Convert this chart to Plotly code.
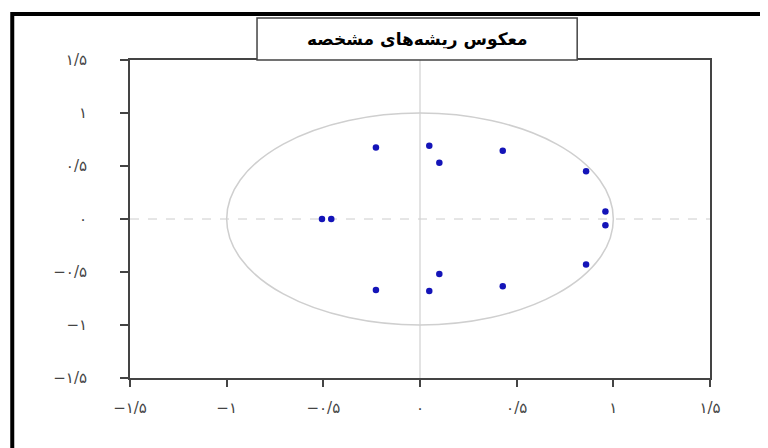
import plotly.graph_objects as go

# Inverse roots (real, imaginary)
root_re = [-0.507, -0.459, -0.228, -0.228, 0.048, 0.048, 0.10, 0.10,
           0.428, 0.428, 0.859, 0.859, 0.959, 0.959]
root_im = [0.0, 0.0, 0.675, -0.67, 0.69, -0.68, 0.53, -0.52,
           0.645, -0.635, 0.45, -0.43, 0.07, -0.06]

tick_vals = [-1.5, -1, -0.5, 0, 0.5, 1, 1.5]
tick_text = ["−۱/۵", "−۱", "−۰/۵", "۰", "۰/۵", "۱", "۱/۵"]
title_text = "<b>معکوس ریشه‌های مشخصه</b>"
unit_radius = 1.0

fig = go.Figure()
fig.add_trace(go.Scatter(
    x=root_re, y=root_im, mode="markers",
    marker=dict(symbol="circle", size=6.5, color="#1414b8"),
    showlegend=False, hoverinfo="x+y"))

shapes = [
    # unit circle
    dict(type="circle", xref="x", yref="y", x0=-unit_radius, x1=unit_radius,
         y0=-unit_radius, y1=unit_radius, line=dict(color="#cfcfcf", width=1.5), layer="below"),
    # zero lines
    dict(type="line", xref="paper", yref="y", x0=0, x1=1, y0=0, y1=0,
         line=dict(color="#cccccc", width=1, dash="dash"), layer="below"),
    dict(type="line", xref="x", yref="paper", x0=0, x1=0, y0=0, y1=1,
         line=dict(color="#d0d0d0", width=1.2), layer="below"),
    # outer black frame
    dict(type="rect", xref="paper", yref="paper", x0=-0.203, x1=1.3, y0=-0.6, y1=1.145,
         line=dict(color="black", width=4), fillcolor="rgba(0,0,0,0)"),
    # title box
    dict(type="rect", xref="paper", yref="paper", x0=0.219, x1=0.771, y0=1.0, y1=1.132,
         line=dict(color="#444444", width=1.5), fillcolor="white"),
]

fig.update_layout(
    width=760, height=440,
    margin=dict(l=122, r=58, t=52, b=70),
    paper_bgcolor="white", plot_bgcolor="white",
    shapes=shapes,
    annotations=[dict(text=title_text, xref="paper", yref="paper", x=0.495, y=1.066,
                      showarrow=False, font=dict(family="DejaVu Sans", size=17, color="black"),
                      xanchor="center", yanchor="middle")],
    font=dict(family="DejaVu Sans", size=15, color="#444444"),
)
fig.update_xaxes(range=[-1.5, 1.5], tickvals=tick_vals, ticktext=tick_text,
                 showgrid=False, zeroline=False, showline=True, mirror=True,
                 linecolor="#444444", linewidth=2, ticks="outside", ticklen=7,
                 tickcolor="#444444", tickwidth=2, ticklabelstandoff=8)
fig.update_yaxes(range=[-1.5, 1.5], tickvals=tick_vals, ticktext=tick_text,
                 showgrid=False, zeroline=False, showline=True, mirror=True,
                 linecolor="#444444", linewidth=2, ticks="outside", ticklen=8,
                 tickcolor="#444444", tickwidth=2, ticklabelstandoff=30)

fig.write_html("out.html")
